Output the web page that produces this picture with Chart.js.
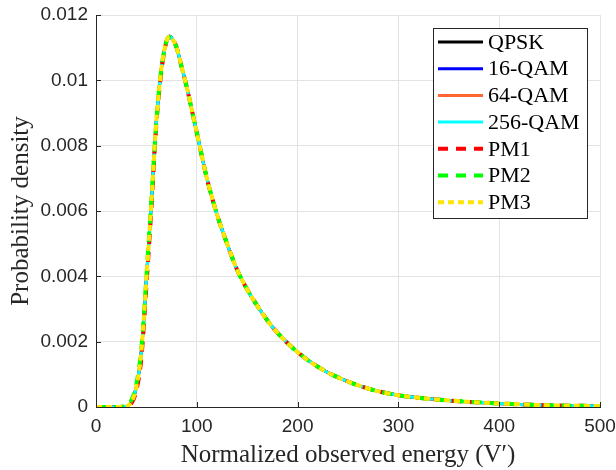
<!DOCTYPE html>
<html>
<head>
<meta charset="utf-8">
<script src="https://cdn.jsdelivr.net/npm/chart.js@4/dist/chart.umd.min.js"></script>
<style>
  html, body { margin: 0; padding: 0; background: #fff; }
  #wrap { width: 616px; height: 470px; }
</style>
</head>
<body>
<div id="wrap"><canvas id="chart" width="616" height="470"></canvas></div>
<script>
// energy axis samples (V')
const energy = [0, 10, 20, 25, 30, 35, 40, 45, 50, 55, 60, 65, 70, 73, 75, 80, 85, 90, 95, 100, 110, 120, 130, 140, 150, 160, 175, 200, 225, 250, 275, 300, 350, 400, 450, 500];

// probability density per modulation
const qpsk   = [0, 0, 0, 0.000005, 0.00002, 0.00015, 0.0006, 0.0017, 0.0039, 0.0063, 0.0088, 0.0104, 0.0112, 0.01134, 0.0113, 0.0110, 0.0104, 0.0098, 0.0091, 0.0084, 0.0070, 0.0059, 0.0050, 0.0042, 0.0036, 0.0031, 0.00245, 0.00168, 0.00114, 0.00078, 0.00052, 0.00036, 0.0002, 0.00011, 0.00005, 0.00003];
const qam16  = [0, 0, 0, 0.000005, 0.00002, 0.00015, 0.0006, 0.0017, 0.0039, 0.0063, 0.0088, 0.0104, 0.0112, 0.01136, 0.0113, 0.0110, 0.0104, 0.0098, 0.0091, 0.0084, 0.0070, 0.0059, 0.0050, 0.0042, 0.0036, 0.0031, 0.00245, 0.00168, 0.00114, 0.00078, 0.00052, 0.00036, 0.0002, 0.00011, 0.00005, 0.00003];
const qam64  = [0, 0, 0, 0.000005, 0.00002, 0.00015, 0.0006, 0.0017, 0.0039, 0.0063, 0.0088, 0.0104, 0.0112, 0.01134, 0.0113, 0.0110, 0.0104, 0.0098, 0.0091, 0.0084, 0.0070, 0.0059, 0.0050, 0.0042, 0.0036, 0.0031, 0.00245, 0.00168, 0.00114, 0.00078, 0.00052, 0.00036, 0.0002, 0.00011, 0.00005, 0.00003];
const qam256 = [0, 0, 0, 0.000005, 0.00002, 0.00015, 0.0006, 0.0017, 0.0039, 0.0063, 0.0088, 0.0104, 0.0112, 0.01134, 0.0113, 0.0110, 0.0104, 0.0098, 0.0091, 0.0084, 0.0070, 0.0059, 0.0050, 0.0042, 0.0036, 0.0031, 0.00245, 0.00168, 0.00114, 0.00078, 0.00052, 0.00036, 0.0002, 0.00011, 0.00005, 0.00003];
const pm1    = [0, 0, 0, 0, 0.00001, 0.0001, 0.0005, 0.0015, 0.0037, 0.0061, 0.0087, 0.0103, 0.0112, 0.01132, 0.0113, 0.0110, 0.0104, 0.0098, 0.0091, 0.0084, 0.0070, 0.0059, 0.0050, 0.0042, 0.0036, 0.0031, 0.00245, 0.00168, 0.00114, 0.00078, 0.00052, 0.00036, 0.0002, 0.00011, 0.00005, 0.00003];
const pm2    = [0, 0, 0, 0.00001, 0.00004, 0.0002, 0.0007, 0.0018, 0.0040, 0.0064, 0.0088, 0.0104, 0.0112, 0.01132, 0.0113, 0.0110, 0.0104, 0.0098, 0.0091, 0.0084, 0.0070, 0.0059, 0.0050, 0.0042, 0.0036, 0.0031, 0.00245, 0.00168, 0.00114, 0.00078, 0.00052, 0.00036, 0.0002, 0.00011, 0.00005, 0.00003];
const pm3    = [0, 0, 0, 0.000005, 0.00002, 0.00015, 0.0006, 0.0017, 0.0039, 0.0063, 0.0088, 0.0104, 0.0112, 0.01134, 0.0113, 0.0110, 0.0104, 0.0098, 0.0091, 0.0084, 0.0070, 0.0059, 0.0050, 0.0042, 0.0036, 0.0031, 0.00245, 0.00168, 0.00114, 0.00078, 0.00052, 0.00036, 0.0002, 0.00011, 0.00005, 0.00003];

const seriesNames = ['QPSK', '16-QAM', '64-QAM', '256-QAM', 'PM1', 'PM2', 'PM3'];
const seriesValues = [qpsk, qam16, qam64, qam256, pm1, pm2, pm3];
const seriesColors = ['#000000', '#0000ff', '#ff6633', '#00ffff', '#ff0000', '#00ff00', '#ffe600'];
const seriesDash = [[], [], [], [], [10, 8], [10, 8], [6, 4]];
const seriesWidth = [3, 3, 3, 3, 4, 4, 4];

const xTicks = [0, 100, 200, 300, 400, 500];
const yTicks = [0, 0.002, 0.004, 0.006, 0.008, 0.01, 0.012];

const axisColor = '#262626';
const serif = '"Liberation Serif", "DejaVu Serif", serif';
const sans = '"Liberation Sans", Arial, sans-serif';

// inward tick marks like the original
const innerTicks = {
    id: 'innerTicks',
    afterDatasetsDraw(chart) {
        const ctx = chart.ctx;
        const xs = chart.scales.x, ys = chart.scales.y;
        const area = chart.chartArea;
        ctx.save();
        ctx.strokeStyle = axisColor;
        ctx.lineWidth = 1;
        ctx.beginPath();
        xTicks.forEach(v => {
            const px = Math.round(xs.getPixelForValue(v)) + 0.5;
            ctx.moveTo(px, area.bottom);
            ctx.lineTo(px, area.bottom - 5);
        });
        yTicks.forEach(v => {
            const py = Math.round(ys.getPixelForValue(v)) + 0.5;
            ctx.moveTo(area.left, py);
            ctx.lineTo(area.left + 5, py);
        });
        ctx.stroke();
        ctx.restore();
    }
};

// boxed legend in the top-right corner of the plot
const boxLegend = {
    id: 'boxLegend',
    afterDraw(chart) {
        const ctx = chart.ctx;
        const x0 = 433, y0 = 28, w = 154, h = 190;
        ctx.save();
        ctx.fillStyle = '#fff';
        ctx.fillRect(x0, y0, w, h);
        ctx.strokeStyle = axisColor;
        ctx.lineWidth = 1;
        ctx.strokeRect(x0 + 0.5, y0 + 0.5, w, h);
        ctx.font = '22px ' + serif;
        ctx.textBaseline = 'middle';
        chart.data.datasets.forEach((ds, i) => {
            const cy = y0 + 14 + i * 26.7;
            ctx.strokeStyle = ds.borderColor;
            ctx.lineWidth = ds.borderWidth;
            ctx.setLineDash(ds.borderDash);
            ctx.beginPath();
            ctx.moveTo(x0 + 5, cy);
            ctx.lineTo(x0 + 50, cy);
            ctx.stroke();
            ctx.setLineDash([]);
            ctx.fillStyle = '#000';
            ctx.fillText(ds.label, x0 + 55, cy + 1);
        });
        ctx.restore();
    }
};

function renderChart() {
    const ctx = document.getElementById('chart').getContext('2d');
    const datasets = seriesNames.map((name, i) => ({
        label: name,
        data: energy.map((e, k) => ({ x: e, y: seriesValues[i][k] })),
        borderColor: seriesColors[i],
        borderWidth: seriesWidth[i],
        borderDash: seriesDash[i],
        pointRadius: 0,
        fill: false,
        cubicInterpolationMode: 'monotone',
        order: seriesNames.length - i
    }));

    new Chart(ctx, {
        type: 'line',
        data: { datasets: datasets },
        options: {
            responsive: false,
            animation: false,
            layout: { padding: { left: 0, right: 16, top: 15, bottom: 0 } },
            plugins: {
                legend: { display: false },
                tooltip: { enabled: false }
            },
            scales: {
                x: {
                    type: 'linear',
                    min: 0,
                    max: 500,
                    afterBuildTicks: s => { s.ticks = xTicks.map(v => ({ value: v })); },
                    afterFit: s => { s.height = 63; s.paddingLeft = 0; s.paddingRight = 0; },
                    grid: { color: '#e3e3e3', drawTicks: false },
                    border: { color: axisColor, width: 1 },
                    ticks: { color: axisColor, font: { family: sans, size: 19 }, padding: 8, maxRotation: 0 },
                    title: {
                        display: true,
                        text: 'Normalized observed energy (V′)',
                        color: axisColor,
                        font: { family: serif, size: 25 },
                        padding: { top: 0, bottom: 0 }
                    }
                },
                y: {
                    min: 0,
                    max: 0.012,
                    afterBuildTicks: s => { s.ticks = yTicks.map(v => ({ value: v })); },
                    afterFit: s => { s.width = 96; s.paddingTop = 0; s.paddingBottom = 0; },
                    grid: { color: '#e3e3e3', drawTicks: false },
                    border: { color: axisColor, width: 1 },
                    ticks: {
                        color: axisColor,
                        font: { family: sans, size: 19 },
                        padding: 8,
                        callback: v => String(+v.toFixed(3))
                    },
                    title: {
                        display: true,
                        text: 'Probability density',
                        color: axisColor,
                        font: { family: serif, size: 25 },
                        padding: { top: 6, bottom: 0 }
                    }
                }
            }
        },
        plugins: [innerTicks, boxLegend]
    });
}

document.addEventListener('DOMContentLoaded', renderChart);
</script>
</body>
</html>
